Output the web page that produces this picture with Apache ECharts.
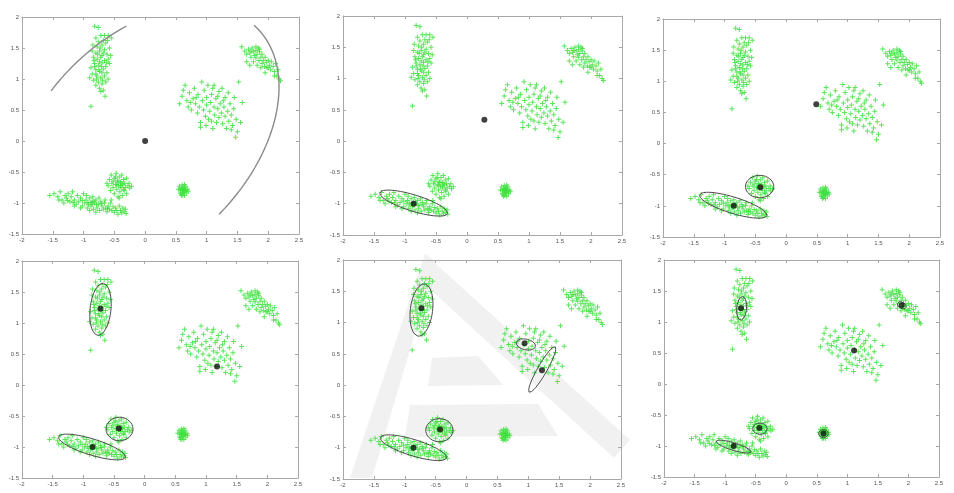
<!DOCTYPE html>
<html><head><meta charset="utf-8">
<script src="https://cdn.jsdelivr.net/npm/echarts@6/dist/echarts.min.js"></script>
<style>html,body{margin:0;padding:0;background:#fff}#c{width:954px;height:493px}</style>
</head><body><div id="c"></div>
<script>
// ---------- data ----------
const xTickRange = [-2, 2.5];
const yTickRange = [-1.5, 2];
const tickStep = 0.5;

const clusterA = [[-0.82,1.85],[-0.76,1.83],[-0.72,1.7],[-0.66,1.7],[-0.6,1.7],[-0.55,1.66],[-0.8,1.66],[-0.85,1.55],[-0.78,1.52],[-0.7,1.55],[-0.64,1.58],[-0.58,1.5],[-0.86,1.45],[-0.8,1.42],[-0.74,1.45],[-0.68,1.42],[-0.62,1.4],[-0.56,1.38],[-0.84,1.35],[-0.78,1.32],[-0.72,1.35],[-0.66,1.3],[-0.6,1.32],[-0.82,1.25],[-0.76,1.22],[-0.7,1.26],[-0.64,1.2],[-0.58,1.25],[-0.88,1.18],[-0.8,1.15],[-0.74,1.12],[-0.68,1.16],[-0.62,1.1],[-0.86,1.08],[-0.78,1.05],[-0.72,1.02],[-0.66,1.05],[-0.6,1.0],[-0.9,1.02],[-0.84,0.98],[-0.76,0.95],[-0.7,0.92],[-0.64,0.95],[-0.8,0.9],[-0.74,0.85],[-0.68,0.82],[-0.72,0.8],[-0.65,0.72],[-0.88,0.56],[-0.7,1.38],[-0.76,1.6],[-0.68,1.62],[-0.82,1.2],[-0.7,1.1],[-0.66,1.47],[-0.74,1.28],[-0.8,1.08],[-0.77,1.4],[-0.71,1.2],[-0.79,1.0],[-0.63,1.27],[-0.75,1.15],[-0.69,0.98],[-0.83,1.3],[-0.73,1.5],[-0.61,1.62]];
const clusterB = [[1.57,1.52],[1.62,1.45],[1.65,1.4],[1.68,1.48],[1.7,1.42],[1.72,1.35],[1.74,1.5],[1.76,1.44],[1.78,1.38],[1.8,1.52],[1.8,1.46],[1.82,1.4],[1.84,1.5],[1.85,1.3],[1.86,1.44],[1.88,1.35],[1.9,1.25],[1.9,1.4],[1.92,1.3],[1.94,1.2],[1.95,1.35],[1.97,1.27],[1.98,1.18],[2.0,1.3],[2.02,1.22],[2.04,1.15],[2.05,1.28],[2.08,1.2],[2.1,1.12],[2.12,1.25],[2.14,1.05],[2.16,1.15],[2.18,1.0],[2.2,0.97],[1.65,1.28],[1.7,1.22],[1.76,1.28],[1.82,1.22],[1.88,1.18],[1.95,1.1],[1.8,1.34],[1.72,1.45],[1.86,1.48],[2.0,1.18],[2.1,1.05]];
const clusterC = [[0.56,0.6],[0.6,0.72],[0.62,0.82],[0.68,0.65],[0.7,0.55],[0.72,0.78],[0.75,0.5],[0.78,0.68],[0.8,0.85],[0.82,0.6],[0.85,0.45],[0.86,0.75],[0.88,0.55],[0.9,0.3],[0.9,0.22],[0.92,0.95],[0.93,0.65],[0.95,0.5],[0.96,0.82],[0.98,0.4],[1.0,0.7],[1.0,0.58],[1.02,0.9],[1.03,0.35],[1.05,0.48],[1.06,0.62],[1.08,0.75],[1.1,0.2],[1.1,0.85],[1.12,0.55],[1.13,0.42],[1.15,0.68],[1.16,0.3],[1.18,0.52],[1.2,0.8],[1.2,0.38],[1.22,0.6],[1.24,0.45],[1.25,0.85],[1.26,0.28],[1.28,0.55],[1.3,0.7],[1.3,0.4],[1.32,0.2],[1.34,0.48],[1.35,0.78],[1.36,0.32],[1.38,0.6],[1.4,0.42],[1.42,0.25],[1.44,0.52],[1.45,0.7],[1.47,0.06],[1.48,0.35],[1.5,0.15],[1.52,0.95],[1.55,0.3],[1.58,0.62],[0.65,0.9],[0.74,0.62],[1.08,0.32],[1.18,0.72],[0.99,0.25],[1.27,0.65],[1.4,0.18],[0.83,0.7],[1.12,0.9]];
const clusterD = [[-1.55,-0.88],[-1.48,-0.85],[-1.42,-0.9],[-1.38,-0.82],[-1.35,-0.95],[-1.3,-0.88],[-1.28,-0.92],[-1.25,-0.85],[-1.22,-0.98],[-1.2,-0.9],[-1.18,-0.82],[-1.15,-0.95],[-1.12,-1.02],[-1.1,-0.88],[-1.08,-0.98],[-1.05,-0.92],[-1.02,-1.05],[-1.0,-0.85],[-0.98,-1.0],[-0.96,-0.95],[-0.94,-1.08],[-0.92,-1.02],[-0.9,-0.92],[-0.88,-1.05],[-0.86,-0.98],[-0.84,-1.1],[-0.82,-1.0],[-0.8,-0.95],[-0.78,-1.08],[-0.76,-1.02],[-0.74,-1.12],[-0.72,-0.98],[-0.7,-1.05],[-0.68,-1.1],[-0.66,-1.0],[-0.64,-1.08],[-0.62,-1.14],[-0.6,-1.05],[-0.58,-1.1],[-0.56,-1.0],[-0.54,-1.12],[-0.52,-1.06],[-0.5,-1.15],[-0.48,-1.08],[-0.46,-1.12],[-0.44,-1.18],[-0.42,-1.05],[-0.4,-1.12],[-0.38,-1.16],[-0.36,-1.08],[-0.34,-1.14],[-0.32,-1.1],[-0.31,-1.17],[-1.15,-1.05],[-1.05,-1.08],[-0.95,-0.88],[-0.85,-0.9],[-0.75,-0.92],[-0.65,-0.95],[-1.32,-1.0],[-0.9,-1.12],[-0.8,-1.15],[-0.55,-0.95],[-0.86,-1.02],[-0.83,-0.97],[-0.88,-0.99],[-1.4,-0.95],[-1.02,-0.96],[-0.93,-0.99],[-0.79,-1.03],[-0.71,-1.01],[-0.61,-1.09],[-1.17,-0.99],[-1.26,-0.96]];
const clusterE = [[-0.6,-0.72],[-0.58,-0.62],[-0.56,-0.8],[-0.55,-0.55],[-0.54,-0.68],[-0.52,-0.75],[-0.5,-0.6],[-0.5,-0.85],[-0.48,-0.7],[-0.47,-0.52],[-0.46,-0.78],[-0.45,-0.64],[-0.44,-0.9],[-0.43,-0.72],[-0.42,-0.58],[-0.41,-0.82],[-0.4,-0.66],[-0.39,-0.75],[-0.38,-0.55],[-0.37,-0.88],[-0.36,-0.7],[-0.35,-0.62],[-0.34,-0.8],[-0.33,-0.68],[-0.32,-0.75],[-0.3,-0.6],[-0.3,-0.85],[-0.28,-0.72],[-0.26,-0.68],[-0.44,-0.66],[-0.4,-0.72],[-0.46,-0.7],[-0.38,-0.68],[-0.52,-0.65],[-0.35,-0.78],[-0.42,-0.92],[-0.48,-0.58],[-0.25,-0.76],[-0.62,-0.68],[-0.22,-0.73]];
const clusterF = [[0.54,-0.78],[0.56,-0.73],[0.57,-0.84],[0.59,-0.76],[0.6,-0.8],[0.6,-0.71],[0.61,-0.87],[0.62,-0.78],[0.62,-0.74],[0.63,-0.82],[0.64,-0.76],[0.64,-0.88],[0.65,-0.8],[0.66,-0.73],[0.67,-0.84],[0.69,-0.78],[0.61,-0.79],[0.63,-0.8],[0.58,-0.85],[0.66,-0.79],[0.6,-0.77],[0.64,-0.7],[0.57,-0.79],[0.62,-0.83],[0.7,-0.81],[0.59,-0.88]];

// centroids per panel
const centroids = [
  [[0,0]],
  [[0.28,0.34],[-0.86,-1.0]],
  [[0.49,0.63],[-0.42,-0.7],[-0.85,-1.0]],
  [[-0.72,1.23],[1.18,0.3],[-0.42,-0.7],[-0.85,-1.0]],
  [[-0.73,1.23],[0.94,0.67],[1.22,0.24],[-0.43,-0.71],[-0.86,-1.0]],
  [[-0.74,1.22],[1.89,1.27],[1.11,0.54],[-0.44,-0.71],[-0.86,-1.0],[0.61,-0.8]]
];
// ellipses per panel: [cx, cy, semiA, semiB, angleDeg, startDeg, endDeg]
const ellipses = [
  [[0,0,2.574,1.685,45,64.8,101.4],[0,0,2.574,1.685,45,-89.7,2.3]],
  [[-0.86,-0.99,0.57,0.13,-17,0,360]],
  [[-0.86,-0.99,0.57,0.13,-17,0,360],[-0.43,-0.69,0.23,0.18,0,0,360]],
  [[-0.72,1.22,0.42,0.17,84,0,360],[-0.41,-0.71,0.22,0.19,0,0,360],[-0.86,-1.0,0.57,0.13,-17,0,360]],
  [[-0.73,1.2,0.42,0.18,83,0,360],[0.96,0.65,0.16,0.085,-12,0,360],[1.225,0.25,0.42,0.075,60,0,360],[-0.44,-0.72,0.22,0.185,0,0,360],[-0.86,-1.0,0.56,0.13,-17,0,360]],
  [[-0.73,1.22,0.19,0.08,85,0,360],[1.89,1.27,0.08,0.05,-30,0,360],[-0.43,-0.72,0.12,0.09,0,0,360],[-0.86,-1.01,0.3,0.06,-17,0,360],[0.61,-0.8,0.08,0.065,0,0,360]]
];

// ---------- layout ----------
const grids = [
  {left:22, top:17, width:277, height:217},
  {left:343, top:16, width:279, height:219},
  {left:663, top:19, width:277, height:218},
  {left:22, top:261, width:276, height:217},
  {left:343, top:260, width:278, height:219},
  {left:664, top:260, width:275, height:217}
];

function ellipsePoints(e){
  const [cx,cy,a,b,ang,t0,t1]=e; const r=ang*Math.PI/180; const pts=[];
  const n=120;
  for(let i=0;i<=n;i++){
    const t=(t0+(t1-t0)*i/n)*Math.PI/180;
    const u=a*Math.cos(t), v=b*Math.sin(t);
    pts.push([cx+u*Math.cos(r)-v*Math.sin(r), cy+u*Math.sin(r)+v*Math.cos(r)]);
  }
  return pts;
}

const allPoints = [].concat(clusterA,clusterB,clusterC,clusterD,clusterE,clusterF);
const axisColor = '#a8a8a8';
const plusPath = 'path://M2,0H3V2H5V3H3V5H2V3H0V2H2Z';

const xAxis=[], yAxis=[], series=[];
grids.forEach((g,i)=>{
  const common = {gridIndex:i, type:'value', splitLine:{show:false},
    axisLine:{show:true,onZero:false,lineStyle:{color:axisColor,width:1}},
    axisTick:{show:true,inside:true,length:3,lineStyle:{color:axisColor}}};
  xAxis.push(Object.assign({}, common, {position:'bottom', min:xTickRange[0], max:xTickRange[1], interval:tickStep,
    axisLabel:{show:true,fontSize:6,color:'#555',margin:3,fontFamily:'Liberation Sans',showMinLabel:true,showMaxLabel:true}}));
  xAxis.push(Object.assign({}, common, {position:'top', min:xTickRange[0], max:xTickRange[1], interval:tickStep, axisLabel:{show:false}}));
  yAxis.push(Object.assign({}, common, {position:'left', min:yTickRange[0], max:yTickRange[1], interval:tickStep,
    axisLabel:{show:true,fontSize:6,color:'#555',margin:3,fontFamily:'Liberation Sans',showMinLabel:true,showMaxLabel:true}}));
  yAxis.push(Object.assign({}, common, {position:'right', min:yTickRange[0], max:yTickRange[1], interval:tickStep, axisLabel:{show:false}}));

  series.push({type:'scatter', xAxisIndex:2*i, yAxisIndex:2*i, data:allPoints, symbol:plusPath, symbolSize:5,
    itemStyle:{color:'#3ee03e',opacity:0.85}, silent:true, z:2});
  ellipses[i].forEach(e=>{
    series.push({type:'line', xAxisIndex:2*i, yAxisIndex:2*i, data:ellipsePoints(e), showSymbol:false, silent:true,
      lineStyle:{color: i===0?'#8a8a8a':'#4a4a4a', width: i===0?1.4:1}, z:3});
  });
  series.push({type:'scatter', xAxisIndex:2*i, yAxisIndex:2*i, data:centroids[i], symbol:'circle', symbolSize:6,
    itemStyle:{color:'#111'}, silent:true, z:4});
});

const wm = '#f1f1f1';
const graphic = [
  {type:'polygon', z:-5, shape:{points:[[350,478],[425,254],[436,262],[372,478]]}, style:{fill:wm}},
  {type:'polygon', z:-5, shape:{points:[[425,254],[630,440],[614,458],[420,280]]}, style:{fill:wm}},
  {type:'polygon', z:-5, shape:{points:[[432,358],[478,356],[503,385],[428,386]]}, style:{fill:wm}},
  {type:'polygon', z:-5, shape:{points:[[410,405],[538,404],[558,436],[405,437]]}, style:{fill:wm}}
];

const chart = echarts.init(document.getElementById('c'), null, {renderer:'canvas'});
chart.setOption({animation:false, backgroundColor:'#fff', grid:grids, xAxis, yAxis, series, graphic});
</script></body></html>
